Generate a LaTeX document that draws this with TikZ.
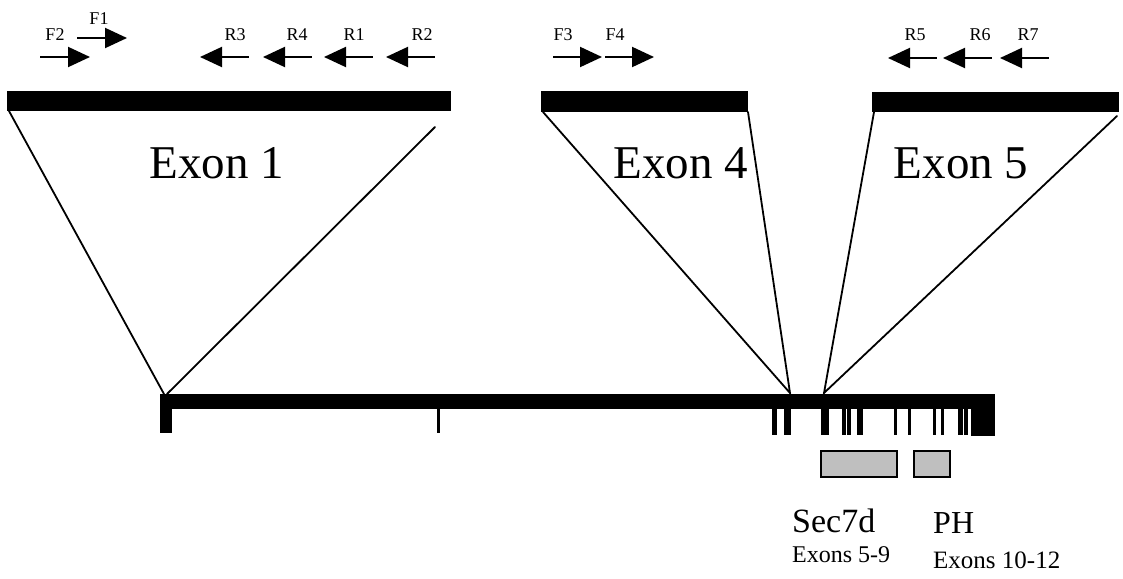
\documentclass[tikz,border=0pt]{standalone}
\usepackage{fontspec}
\setmainfont{Liberation Serif}
\usetikzlibrary{arrows.meta}
\begin{document}
\begin{tikzpicture}[x=1pt,y=-1pt,
  genebar/.style={fill=black,draw=none},
  zoomline/.style={line width=1.8pt,line cap=round},
  fwd/.style={line width=2pt,-{Triangle[length=22pt,width=20pt]}},
  rev/.style={line width=2pt,{Triangle[length=22pt,width=20pt]}-},
  primer/.style={font=\fontsize{18}{18}\selectfont,inner sep=0pt},
  exonlabel/.style={font=\fontsize{47}{47}\selectfont,inner sep=0pt,anchor=base},
  protbox/.style={fill=black!25,draw=black,line width=1.6pt},
  exontick/.style={fill=black,draw=none}]
\useasboundingbox (0,0) rectangle (1123,578);

% primers above exon 1
\node[primer] (lF2) at (55,35) {F2};
\node[primer] (lF1) at (99,19) {F1};
\node[primer] (lR3) at (235,35) {R3};
\node[primer] (lR4) at (297,35) {R4};
\node[primer] (lR1) at (354,35) {R1};
\node[primer] (lR2) at (422,35) {R2};
\draw[fwd] (40,57) -- (90,57);
\draw[fwd] (77,38) -- (127,38);
\draw[rev] (200,57) -- (249,57);
\draw[rev] (263,57) -- (312,57);
\draw[rev] (324,57) -- (373,57);
\draw[rev] (386,57) -- (435,57);

% primers above exon 4
\node[primer] (lF3) at (563,35) {F3};
\node[primer] (lF4) at (615,35) {F4};
\draw[fwd] (553,57) -- (602,57);
\draw[fwd] (605,57) -- (654,57);

% primers above exon 5
\node[primer] (lR5) at (915,35) {R5};
\node[primer] (lR6) at (980,35) {R6};
\node[primer] (lR7) at (1028,35) {R7};
\draw[rev] (888,58) -- (937,58);
\draw[rev] (943,58) -- (992,58);
\draw[rev] (1000,58) -- (1049,58);

% enlarged exons
\fill[genebar] (7,91) rectangle (451,111);
\fill[genebar] (541,91) rectangle (748,112);
\fill[genebar] (872,92) rectangle (1119,112);

% positions on the gene
\coordinate (e1a) at (9,111);
\coordinate (e1b) at (435,127);
\coordinate (g1a) at (164,394);
\coordinate (g1b) at (167,394);
\coordinate (e4a) at (543,112);
\coordinate (e4b) at (748,112);
\coordinate (g4) at (790,393);
\coordinate (e5a) at (874,112);
\coordinate (e5b) at (1117,116);
\coordinate (g5) at (824,393);

\draw[zoomline] (e1a) -- (g1a);
\draw[zoomline] (e1b) -- (g1b);
\draw[zoomline] (e4a) -- (g4) -- (e4b);
\draw[zoomline] (e5a) -- (g5) -- (e5b);

\node[exonlabel] (x1) at (217,178) {Exon 1};
\node[exonlabel] (x4) at (681,178) {Exon 4};
\node[exonlabel] (x5) at (961,178) {Exon 5};

% gene with exons
\fill[genebar] (160,394) rectangle (995,409);
\fill[exontick] (160,394) rectangle (172,433);
\fill[exontick] (437,400) rectangle (439.5,433);
\foreach \a/\b in {772/777,784/791,821/829,842/846,847/851,857/863,894/897,908/911,933/936,941/944,958/963,964/968}
  \fill[exontick] (\a,400) rectangle (\b,435);
\fill[exontick] (971,394) rectangle (995,436);

% protein domains
\draw[protbox] (821,451) rectangle (897,477);
\draw[protbox] (914,451) rectangle (950,477);
\node[font=\fontsize{34}{34}\selectfont,inner sep=0pt,anchor=base west] (sec) at (792,532) {Sec7d};
\node[font=\fontsize{32}{32}\selectfont,inner sep=0pt,anchor=base west] (ph) at (933,533) {PH};
\node[font=\fontsize{24}{24}\selectfont,inner sep=0pt,anchor=base west] (secx) at (792,562) {Exons 5-9};
\node[font=\fontsize{25}{25}\selectfont,inner sep=0pt,anchor=base west] (phx) at (933,568) {Exons 10-12};
\end{tikzpicture}
\end{document}
